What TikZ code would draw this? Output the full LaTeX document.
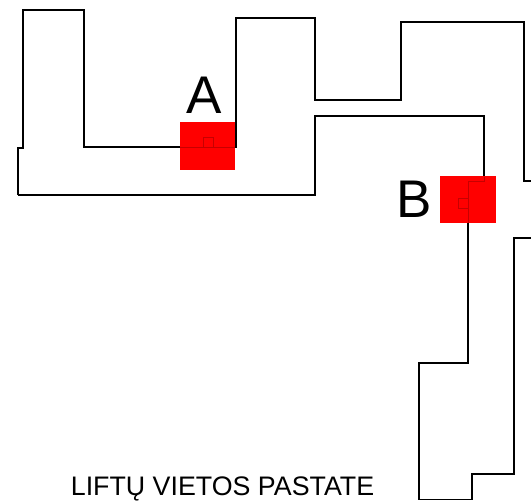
\documentclass[tikz,border=0pt]{standalone}
\usepackage{fontspec}
\setmainfont{Liberation Sans}
\usetikzlibrary{positioning}

\tikzset{
  wall/.style={draw=black,line width=1.5pt,line join=miter},
  lift/.style={draw=none,fill=red,inner sep=0pt,outer sep=0pt},
  liftcore/.style={draw=red!78!black,line width=0.7pt},
  liftname/.style={inner sep=0pt,font=\fontsize{53}{53}\selectfont},
  caption/.style={inner sep=0pt,anchor=base,font=\fontsize{26.8}{27}\selectfont}
}

\begin{document}
\begin{tikzpicture}[x=1pt,y=-1pt]
\useasboundingbox (0,0) rectangle (531,501);

% building outline
\draw[wall] (18,195) -- (18,148) -- (23,148) -- (23,10) -- (84,10) -- (84,147) -- (236,147) -- (236,18)
  -- (315,18) -- (315,100) -- (401,100) -- (401,22) -- (524,22) -- (524,181) -- (531,181);
\draw[wall] (18,195) -- (315,195) -- (315,116) -- (484,116) -- (484,181) -- (468,181) -- (468,363)
  -- (419,363) -- (419,499.5) -- (472,499.5) -- (472,474) -- (514,474) -- (514,238) -- (531,238);

% lifts
\node[lift,minimum width=55.5pt,minimum height=47.7pt] (liftA) at (207.25,146.2) {};
\node[lift,minimum width=56pt,minimum height=47.3pt] (liftB) at (468,199.7) {};

% lines seen through the lifts
\draw[liftcore] (203,137) rectangle (213,147);
\draw[liftcore] (180,147) -- (235,147);
\draw[liftcore] (458,198) rectangle (468,208);
\draw[liftcore] (484,176.5) -- (484,181) -- (468,181) -- (468,223);

\node[liftname,above=9pt of liftA,xshift=-3.5pt] (nameA) {A};
\node[liftname,left=8pt of liftB] (nameB) {B};

\node[caption] (title) at (222.5,495.8) {LIFTŲ VIETOS PASTATE};

\end{tikzpicture}
\end{document}
